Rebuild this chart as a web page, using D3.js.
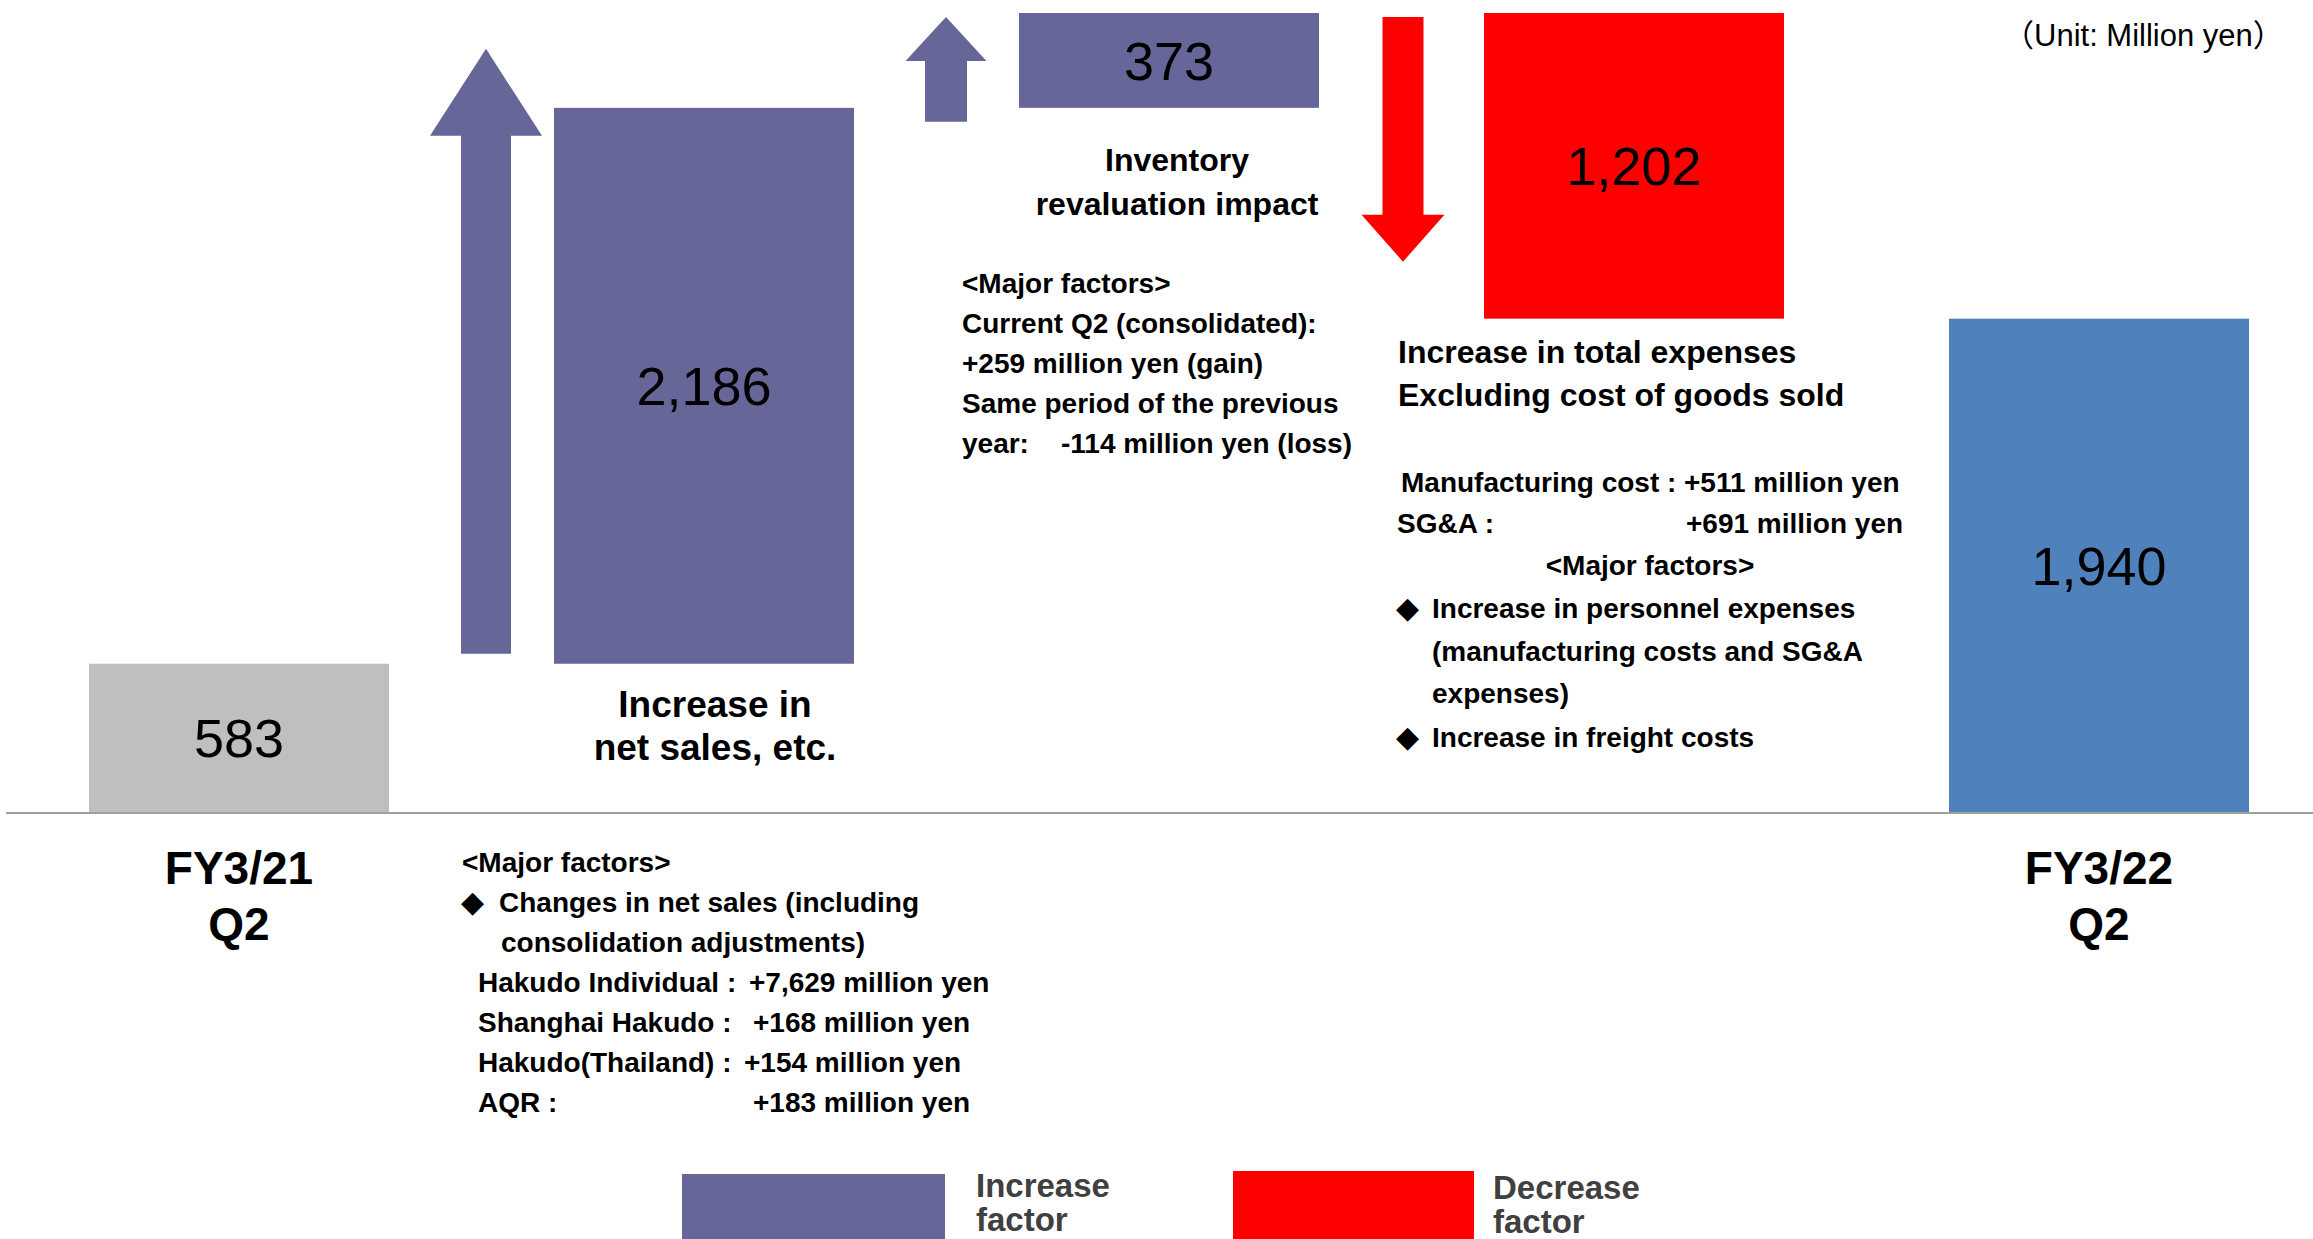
<!DOCTYPE html>
<html>
<head>
<meta charset="utf-8">
<script src="https://cdn.jsdelivr.net/npm/d3@7"></script>
<style>
  body { margin: 0; background: #fff; }
  svg { display: block; }
  text { font-family: "Liberation Sans", Arial, "DejaVu Sans", "Noto Sans CJK JP", sans-serif; }
</style>
</head>
<body>
<svg id="chart" width="2313" height="1239"></svg>
<script>
// Operating profit bridge, FY3/21 Q2 -> FY3/22 Q2 (million yen)
const categories = ["FY3/21 Q2", "Increase in net sales, etc.", "Inventory revaluation impact",
                    "Increase in total expenses excluding cost of goods sold", "FY3/22 Q2"];
const values = [583, 2186, 373, -1202, 1940];
const kinds = ["start", "increase", "increase", "decrease", "end"];
const valueLabels = ["583", "2,186", "373", "1,202", "1,940"];
const axisLabels = [["FY3/21", "Q2"], null, null, null, ["FY3/22", "Q2"]];
const stepTitles = [null, ["Increase in", "net sales, etc."], ["Inventory", "revaluation impact"],
                    ["Increase in total expenses", "Excluding cost of goods sold"], null];
const unitLabel = "（Unit: Million yen）";
const legendLabels = [["Increase", "factor"], ["Decrease", "factor"]];

const inventoryNotes = ["<Major factors>", "Current Q2 (consolidated):", "+259 million yen (gain)",
                        "Same period of the previous", ["year:", "-114 million yen (loss)"]];
const expenseNotes = [["Manufacturing cost :", "+511 million yen"], ["SG&A :", "+691 million yen"]];
const expenseFactors = ["<Major factors>", "Increase in personnel expenses",
                        "(manufacturing costs and SG&A", "expenses)", "Increase in freight costs"];
const salesNotes = ["<Major factors>", "Changes in net sales (including", "consolidation adjustments)"];
const salesBreakdown = [["Hakudo Individual :", "+7,629 million yen"], ["Shanghai Hakudo :", "+168 million yen"],
                        ["Hakudo(Thailand) :", "+154 million yen"], ["AQR :", "+183 million yen"]];

const colors = { start: "#bfbfbf", increase: "#666699", decrease: "#ff0000", end: "#4f81bd" };

const svg = d3.select("#chart");
const W = 2313, H = 1239, baseY = 812;

// running totals for the waterfall
let run = 0;
const bars = values.map((v, i) => {
  let y0, y1;
  if (kinds[i] === "start" || kinds[i] === "end") { y0 = 0; y1 = v; run = v; }
  else { y0 = run; y1 = run + v; run = y1; }
  return { cat: categories[i], kind: kinds[i], label: valueLabels[i], y0, y1, i };
});

const x = d3.scaleBand().domain(categories).range([89, 2249]).paddingInner(165 / 465).paddingOuter(0);
const y = d3.scaleLinear().domain([0, d3.max(bars, d => Math.max(d.y0, d.y1))]).range([baseY, 13]);

// bars
svg.append("g").selectAll("rect").data(bars).join("rect")
  .attr("x", d => x(d.cat))
  .attr("width", x.bandwidth())
  .attr("y", d => y(Math.max(d.y0, d.y1)))
  .attr("height", d => Math.abs(y(d.y0) - y(d.y1)))
  .attr("fill", d => colors[d.kind]);

// value labels at the middle of each bar
svg.append("g").selectAll("text").data(bars).join("text")
  .attr("x", d => x(d.cat) + x.bandwidth() / 2)
  .attr("y", d => (y(d.y0) + y(d.y1)) / 2)
  .attr("dy", "0.36em")
  .attr("text-anchor", "middle")
  .attr("font-size", 54)
  .attr("fill", "#000")
  .text(d => d.label);

// direction arrows beside the step bars
const arrowStyle = {
  1: { gap: 68, tailOff: -10, tipOff: -59, shaft: 50, head: 112, headLen: 87 },
  2: { gap: 73, tailOff: 14, tipOff: 4, shaft: 42, head: 81, headLen: 44 },
  3: { gap: 81, tailOff: 4, tipOff: -57, shaft: 41, head: 83, headLen: 47 }
};
function arrowPath(cx, yTail, yTip, s, h, hl) {
  const dir = Math.sign(yTip - yTail);
  const b = yTip - dir * hl;
  return `M${cx - s / 2},${yTail}L${cx - s / 2},${b}L${cx - h / 2},${b}L${cx},${yTip}` +
         `L${cx + h / 2},${b}L${cx + s / 2},${b}L${cx + s / 2},${yTail}Z`;
}
svg.append("g").selectAll("path").data(bars.filter(d => arrowStyle[d.i])).join("path")
  .attr("fill", d => colors[d.kind])
  .attr("d", d => {
    const a = arrowStyle[d.i];
    return arrowPath(x(d.cat) - a.gap, y(d.y0) + a.tailOff, y(d.y1) + a.tipOff, a.shaft, a.head, a.headLen);
  });

// zero line
svg.append("line")
  .attr("x1", 6).attr("x2", W).attr("y1", y(0) + 1).attr("y2", y(0) + 1)
  .attr("stroke", "#a0a0a0").attr("stroke-width", 2);

// period labels under the first and last bar
bars.forEach(d => {
  const lines = axisLabels[d.i];
  if (!lines) return;
  const t = svg.append("text")
    .attr("text-anchor", "middle").attr("font-size", 46).attr("font-weight", "bold").attr("fill", "#000");
  lines.forEach((l, k) => t.append("tspan")
    .attr("x", x(d.cat) + x.bandwidth() / 2).attr("y", 884 + k * 56).text(l));
});

// multi-line text helper
function lines(parent, arr, xPos, y0, step, opts) {
  const t = parent.append("text")
    .attr("font-size", opts.size).attr("font-weight", opts.weight || "bold")
    .attr("fill", opts.fill || "#000").attr("text-anchor", opts.anchor || "start");
  arr.forEach((l, k) => t.append("tspan").attr("x", xPos).attr("y", y0 + k * step).text(l));
  return t;
}

// titles of the step bars
lines(svg, stepTitles[1], x(categories[1]) + x.bandwidth() / 2 + 11, 717, 43, { size: 37, anchor: "middle" });
lines(svg, stepTitles[2], x(categories[2]) + x.bandwidth() / 2 + 8, 171, 44, { size: 32, anchor: "middle" });
lines(svg, stepTitles[3], x(categories[3]) - 86, 363, 43, { size: 32 });

// unit
svg.append("text").attr("x", 2003).attr("y", 46).attr("font-size", 31).attr("fill", "#000").text(unitLabel);

// inventory notes
const g1 = svg.append("g").attr("font-size", 28).attr("font-weight", "bold").attr("fill", "#000");
inventoryNotes.forEach((l, k) => {
  const yy = 293 + k * 40;
  if (Array.isArray(l)) {
    g1.append("text").attr("x", 962).attr("y", yy).text(l[0]);
    g1.append("text").attr("x", 1061).attr("y", yy).text(l[1]);
  } else {
    g1.append("text").attr("x", 962).attr("y", yy).text(l);
  }
});

// expense notes
const g2 = svg.append("g").attr("font-size", 28).attr("font-weight", "bold").attr("fill", "#000");
expenseNotes.forEach((l, k) => {
  const yy = 492 + k * 41;
  g2.append("text").attr("x", k === 0 ? 1401 : 1397).attr("y", yy).text(l[0]);
  g2.append("text").attr("x", k === 0 ? 1684 : 1686).attr("y", yy).text(l[1]);
});
const factorY = [575, 618, 661, 703, 747];
expenseFactors.forEach((l, k) => {
  if (k === 0) {
    g2.append("text").attr("x", 1650).attr("y", factorY[k]).attr("text-anchor", "middle").text(l);
  } else {
    if (k === 1 || k === 4) g2.append("text").attr("x", 1396).attr("y", factorY[k]).attr("font-size", 30).text("◆");
    g2.append("text").attr("x", 1432).attr("y", factorY[k]).text(l);
  }
});

// net sales notes
const g3 = svg.append("g").attr("font-size", 28).attr("font-weight", "bold").attr("fill", "#000");
g3.append("text").attr("x", 462).attr("y", 872).text(salesNotes[0]);
g3.append("text").attr("x", 461).attr("y", 912).attr("font-size", 30).text("◆");
g3.append("text").attr("x", 499).attr("y", 912).text(salesNotes[1]);
g3.append("text").attr("x", 501).attr("y", 952).text(salesNotes[2]);
const valueX = [749, 753, 744, 753];
salesBreakdown.forEach((l, k) => {
  const yy = 992 + k * 40;
  g3.append("text").attr("x", 478).attr("y", yy).text(l[0]);
  g3.append("text").attr("x", valueX[k]).attr("y", yy).text(l[1]);
});

// legend
const legend = [
  { kind: "increase", x0: 682, x1: 945, top: 1174, tx: 976, ty: 1197 },
  { kind: "decrease", x0: 1233, x1: 1474, top: 1171, tx: 1493, ty: 1199 }
];
legend.forEach((d, k) => {
  svg.append("rect").attr("x", d.x0).attr("y", d.top).attr("width", d.x1 - d.x0).attr("height", H - d.top + 2)
    .attr("fill", colors[d.kind]);
  lines(svg, legendLabels[k], d.tx, d.ty, 34, { size: 33, fill: "#404040" });
});
</script>
</body>
</html>
